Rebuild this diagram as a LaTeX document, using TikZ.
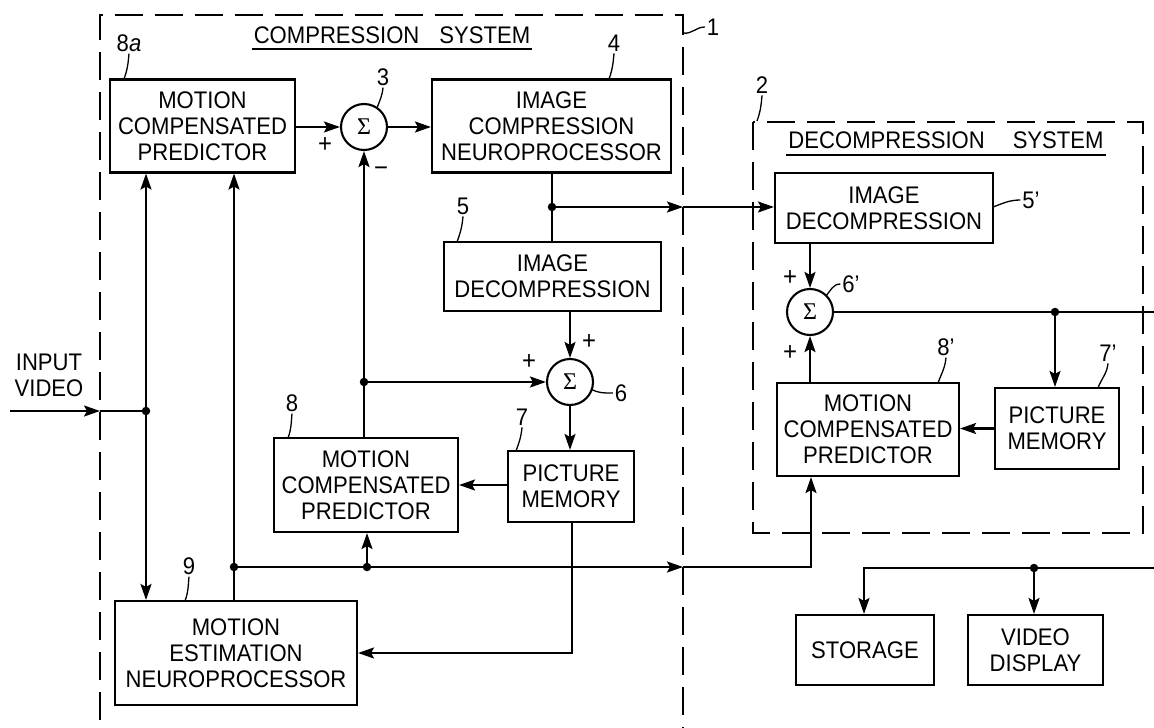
\documentclass[tikz,border=0pt]{standalone}
\usepackage{fontspec}
\setmainfont{Liberation Sans}[FakeStretch=0.92]
\newfontfamily\sigfont{Liberation Serif}
\usetikzlibrary{arrows.meta}
\begin{document}
\begin{tikzpicture}[x=1pt,y=-1pt,
  line width=2.1pt,
  box/.style={draw, line width=2.1pt, align=center, inner sep=0pt, font=\fontsize{24}{26}\selectfont},
  sig/.style={draw, circle, minimum size=46pt, inner sep=0pt, line width=2.1pt, font=\sigfont\fontsize{24}{24}\selectfont},
  arr/.style={-{Stealth[length=16pt,width=11pt,inset=3pt]}},
  lbl/.style={font=\fontsize{24}{26}\selectfont, inner sep=1pt},
  sgn/.style={font=\fontsize{26}{26}\selectfont, inner sep=0pt},
  sysbox/.style={dash pattern=on 28pt off 12pt, line width=2.6pt},
  dot/.style={circle, fill, inner sep=0pt, minimum size=8.5pt},
  lead/.style={line width=1.3pt}]
\useasboundingbox (0,0) rectangle (1154,728);
\clip (0,0) rectangle (1154,728);
\fill[white] (0,0) rectangle (1154,728);

% system frames
\draw[sysbox] (100,760) -- (100,15) -- (683,15) -- (683,760);
\draw[sysbox] (753,122) rectangle (1143,533);

% titles
\node[lbl, anchor=base] (t1) at (392,43) {COMPRESSION\hspace{20pt}SYSTEM};
\draw[line width=1.6pt] ([yshift=-6pt]t1.base west) -- ([yshift=-6pt]t1.base east);
\node[lbl, anchor=base] (t2) at (946,148) {DECOMPRESSION\hspace{28pt}SYSTEM};
\draw[line width=1.6pt] ([yshift=-7pt]t2.base west) -- ([yshift=-7pt]t2.base east);

% compression blocks
\node[box, minimum width=185pt, minimum height=93pt] (b8a) at (202.5,126) {MOTION\\COMPENSATED\\PREDICTOR};
\node[sig] (s3) at (364,127) {Σ};
\node[box, minimum width=239pt, minimum height=93pt] (b4) at (551.5,126) {IMAGE\\COMPRESSION\\NEUROPROCESSOR};
\node[box, minimum width=217pt, minimum height=69pt] (b5) at (552.5,276.5) {IMAGE\\DECOMPRESSION};
\node[sig] (s6) at (570,382) {Σ};
\node[box, minimum width=184pt, minimum height=94pt] (b8) at (366,485) {MOTION\\COMPENSATED\\PREDICTOR};
\node[box, minimum width=126pt, minimum height=71pt] (b7) at (571,486.5) {PICTURE\\MEMORY};
\node[box, minimum width=242pt, minimum height=104pt] (b9) at (236,653) {MOTION\\ESTIMATION\\NEUROPROCESSOR};

% decompression blocks
\node[box, minimum width=218pt, minimum height=70pt] (b5p) at (884,208) {IMAGE\\DECOMPRESSION};
\node[sig] (s6p) at (810,312) {Σ};
\node[box, minimum width=182pt, minimum height=93pt] (b8p) at (868,429.5) {MOTION\\COMPENSATED\\PREDICTOR};
\node[box, minimum width=124pt, minimum height=81pt] (b7p) at (1057,428.5) {PICTURE\\MEMORY};
\node[box, minimum width=138pt, minimum height=70pt] (bst) at (865,650) {STORAGE};
\node[box, minimum width=135pt, minimum height=70pt] (bvd) at (1035.5,650) {VIDEO\\DISPLAY};

% coordinates
\coordinate (j1) at (146,411);
\coordinate (iv) at (10,411);
\coordinate (bd2) at (100,411);
\coordinate (j2) at (552,207);
\coordinate (bd1) at (683,207);
\coordinate (j3) at (364,382);
\coordinate (c7) at (572,653);
\coordinate (j4) at (234,567);
\coordinate (j5) at (367,567);
\coordinate (bd3) at (683,567);
\coordinate (c8) at (811,567);
\coordinate (eR) at (1160,312);
\coordinate (j6) at (1055,312);
\coordinate (eR2) at (1160,568);
\coordinate (c9) at (864,568);
\coordinate (j7) at (1034,568);

% compression connectors
\draw[arr] (b8a.east |- s3) -- (s3.west);
\draw[arr] (s3.east) -- (s3.east -| b4.west);
\draw (b4.south -| j2) -- (b5.north -| j2);
\draw[arr] (j2) -- (bd1);
\draw[arr] (bd1) -- (bd1 -| b5p.west);
\draw[arr] (b5.south -| s6) -- (s6.north);
\draw[arr] (j3) -- (s6.west);
\draw[arr] (b8.north -| s3) -- (s3.south);
\draw[arr] (s6.south) -- (s6.south |- b7.north);
\draw[arr] (b7.west |- b8.east) -- (b8.east);
\draw[arr] (b7.south -| c7) -- (c7) -- (b9.east |- c7);
\draw[arr] (iv) -- (bd2);
\draw (bd2) -- (j1);
\draw[arr] (j1) -- (j1 |- b8a.south);
\draw[arr] (j1) -- (j1 |- b9.north);
\draw[arr] (b9.north -| j4) -- (j4 |- b8a.south);
\draw (j4) -- (j5);
\draw[arr] (j5) -- (j5 |- b8.south);
\draw[arr] (j5) -- (bd3);
\draw[arr] (bd3) -- (c8) -- (c8 |- b8p.south);

% decompression connectors
\draw[arr] (b5p.south -| s6p) -- (s6p.north);
\draw[arr] (b8p.north -| s6p) -- (s6p.south);
\draw (s6p.east) -- (eR);
\draw[arr] (j6) -- (j6 |- b7p.north);
\draw[arr] (b7p.west) -- (b7p.west -| b8p.east);
\draw[arr] (eR2) -- (c9) -- (c9 |- bst.north);
\draw[arr] (j7) -- (j7 |- bvd.north);

% dots
\foreach \p in {j1,j2,j3,j4,j5,j6,j7} \node[dot] at (\p) {};

% signs
\node[sgn] (p1) at (325,145) {+};
\node[sgn] (m1) at (381,172) {−};
\node[sgn] (p2) at (589,342) {+};
\node[sgn] (p3) at (529,362) {+};
\node[sgn] (p4) at (790,278) {+};
\node[sgn] (p5) at (790,353) {+};

% reference labels with leaders
\node[lbl] (l1) at (713,27) {1};
\draw[lead] (683,33) to[out=-10,in=180] (l1.west);
\node[lbl] (l8a) at (129,43) {8\textit{a}};
\coordinate (c8a) at (124,79);
\draw[lead] (l8a.south) to[out=-95,in=70] (c8a);
\node[lbl] (l3) at (383,77) {3};
\coordinate (c3) at (377,108);
\draw[lead] (l3.south) to[out=-95,in=70] (c3);
\node[lbl] (l4) at (614,43) {4};
\coordinate (c4) at (609,79);
\draw[lead] (l4.south) to[out=-95,in=70] (c4);
\node[lbl] (l5) at (463,206) {5};
\coordinate (c5) at (457,242);
\draw[lead] (l5.south) to[out=-95,in=70] (c5);
\node[lbl] (l6) at (621,393) {6};
\coordinate (c6) at (591,389);
\draw[lead] (c6) to[out=-30,in=180] (l6.west);
\node[lbl] (l7) at (522,417) {7};
\coordinate (c7l) at (516,451);
\draw[lead] (l7.south) to[out=-95,in=70] (c7l);
\node[lbl] (l8) at (292,403) {8};
\coordinate (c8l) at (288,438);
\draw[lead] (l8.south) to[out=-95,in=70] (c8l);
\node[lbl] (l9) at (189,566) {9};
\coordinate (c9l) at (185,601);
\draw[lead] (l9.south) to[out=-95,in=70] (c9l);
\node[lbl] (l2) at (762,85) {2};
\coordinate (c2) at (757,121);
\draw[lead] (l2.south) to[out=-95,in=70] (c2);
\node[lbl] (l5p) at (1031,200) {5'};
\coordinate (c5p) at (993,207);
\draw[lead] (c5p) to[out=20,in=180] (l5p.west);
\node[lbl] (l6p) at (851,284) {6'};
\coordinate (c6p) at (826,296);
\draw[lead] (c6p) to[out=50,in=180] (l6p.west);
\node[lbl] (l7p) at (1108,353) {7'};
\coordinate (c7p) at (1098,388);
\draw[lead] (l7p.south) to[out=-95,in=70] (c7p);
\node[lbl] (l8p) at (946,347) {8'};
\coordinate (c8p) at (938,383);
\draw[lead] (l8p.south) to[out=-95,in=70] (c8p);

% input label
\node[lbl, align=center] (inp) at (49,375) {INPUT\\VIDEO};
\end{tikzpicture}
\end{document}
